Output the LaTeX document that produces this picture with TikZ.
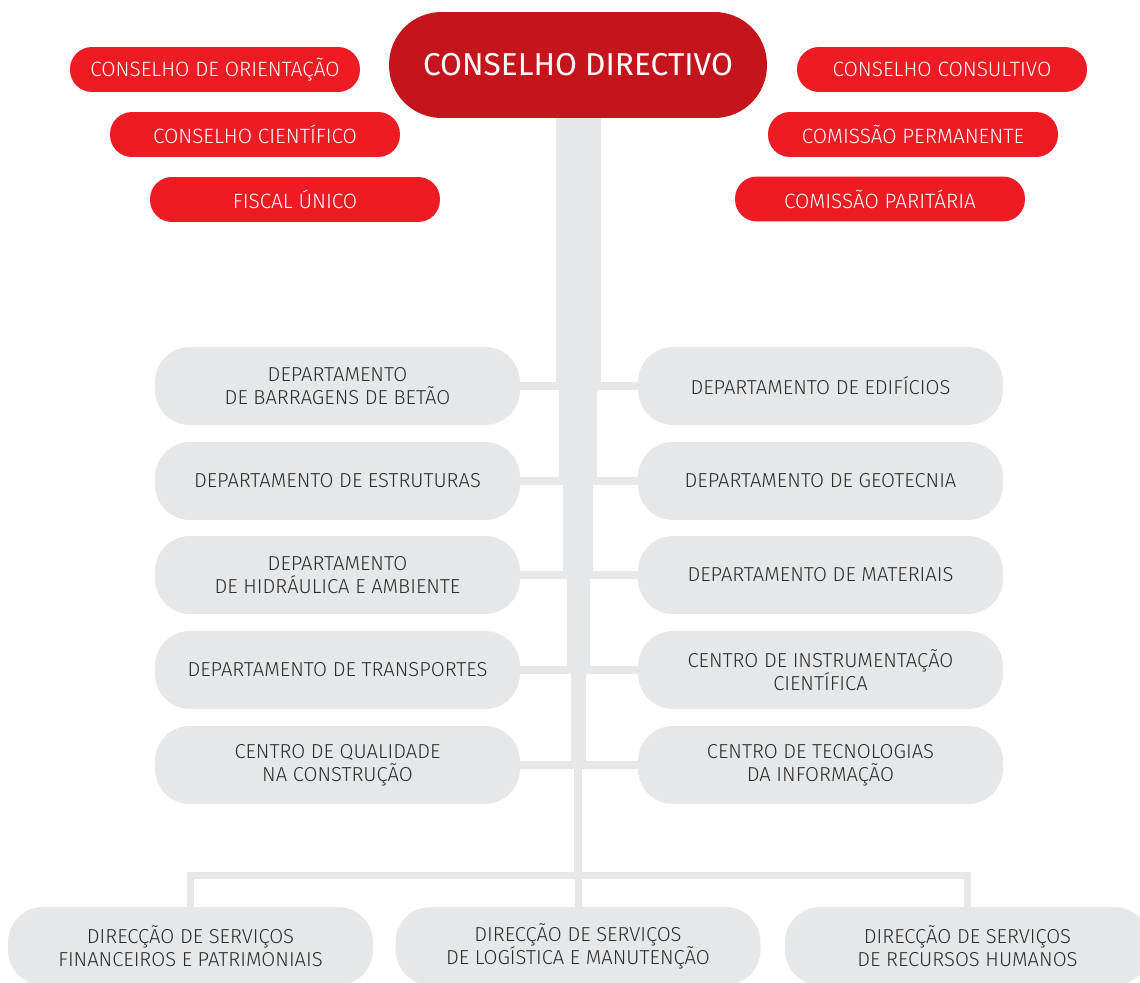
\documentclass[tikz,border=0pt]{standalone}
\usepackage{fontspec}
\setmainfont{Fira Sans Light}
\newfontfamily\titlefont{Fira Sans}
\usetikzlibrary{positioning}
\definecolor{directred}{RGB}{196,20,28}
\definecolor{orgred}{RGB}{237,28,36}
\definecolor{orggray}{RGB}{230,231,232}
\definecolor{orgtext}{RGB}{45,45,45}

\begin{document}
\begin{tikzpicture}[x=0.02cm,y=-0.02cm,
    council/.style={fill=orgred,text=white,rounded corners=0.44cm,minimum width=5.8cm,minimum height=0.9cm,font=\fontsize{11.8}{13}\selectfont},
    dept/.style={fill=orggray,text=orgtext,rounded corners=0.7cm,minimum width=7.3cm,minimum height=1.56cm,align=center,font=\fontsize{11.5}{13}\selectfont},
    branch/.style={draw=orggray,line width=0.16cm}]
    \useasboundingbox (0,0) rectangle (1140,983);

    % Top
    \node[fill=directred,text=white,rounded corners=1.05cm,minimum width=7.56cm,minimum height=2.12cm,font=\titlefont\fontsize{18}{20}\selectfont] (direct) at (578,65) {CONSELHO DIRECTIVO};

    % Councils
    \node[council] (orient) at (215,69.5) {CONSELHO DE ORIENTAÇÃO};
    \node[council] (cient) at (255,134.5) {CONSELHO CIENTÍFICO};
    \node[council] (fiscal) at (295,199.5) {FISCAL ÚNICO};
    \node[council] (consult) at (942,69.5) {CONSELHO CONSULTIVO};
    \node[council] (perman) at (913,134.5) {COMISSÃO PERMANENTE};
    \node[council] (parit) at (880,199) {COMISSÃO PARITÁRIA};

    % Departments, left
    \node[dept] (barrag) at (337.5,386) {DEPARTAMENTO\\DE BARRAGENS DE BETÃO};
    \node[dept] (estrut) at (337.5,481) {DEPARTAMENTO DE ESTRUTURAS};
    \node[dept] (hidraul) at (337.5,575) {DEPARTAMENTO\\DE HIDRÁULICA E AMBIENTE};
    \node[dept] (transp) at (337.5,670) {DEPARTAMENTO DE TRANSPORTES};
    \node[dept] (qualid) at (337.5,765) {CENTRO DE QUALIDADE\\NA CONSTRUÇÃO};

    % Departments, right
    \node[dept] (edif) at (820.5,386) {DEPARTAMENTO DE EDIFÍCIOS};
    \node[dept] (geotec) at (820.5,481) {DEPARTAMENTO DE GEOTECNIA};
    \node[dept] (mater) at (820.5,575) {DEPARTAMENTO DE MATERIAIS};
    \node[dept] (instrum) at (820.5,670) {CENTRO DE INSTRUMENTAÇÃO\\CIENTÍFICA};
    \node[dept] (tecnol) at (820.5,765) {CENTRO DE TECNOLOGIAS\\DA INFORMAÇÃO};

    % Services
    \node[dept] (financ) at (190.5,946) {DIRECÇÃO DE SERVIÇOS\\FINANCEIROS E PATRIMONIAIS};
    \node[dept] (logist) at (578,946) {DIRECÇÃO DE SERVIÇOS\\DE LOGÍSTICA E MANUTENÇÃO};
    \node[dept] (recurs) at (967.5,946) {DIRECÇÃO DE SERVIÇOS\\DE RECURSOS HUMANOS};

    % Trunk
    \coordinate (j1) at (direct.south |- barrag.east);
    \coordinate (j2) at (direct.south |- estrut.east);
    \coordinate (j3) at (direct.south |- hidraul.east);
    \coordinate (j4) at (direct.south |- transp.east);
    \coordinate (j5) at (direct.south |- qualid.east);
    \coordinate (bar) at (578,875.5);
    \draw[branch,line width=0.9cm] (direct.south) -- (j1);
    \draw[branch,line width=0.76cm] (j1) -- (j2);
    \draw[branch,line width=0.6cm] (j2) -- (j3);
    \draw[branch,line width=0.46cm] (j3) -- (j4);
    \draw[branch,line width=0.3cm] (j4) -- (j5);
    \draw[branch] (j5) -- (bar);

    % Branches
    \draw[branch] (barrag) -- (edif);
    \draw[branch] (estrut) -- (geotec);
    \draw[branch] (hidraul) -- (mater);
    \draw[branch] (transp) -- (instrum);
    \draw[branch] (qualid) -- (tecnol);
    \draw[branch,line width=0.14cm] (financ.north) |- (bar) -| (recurs.north);
    \draw[branch,line width=0.14cm] (bar) -- (logist.north);
\end{tikzpicture}
\end{document}
